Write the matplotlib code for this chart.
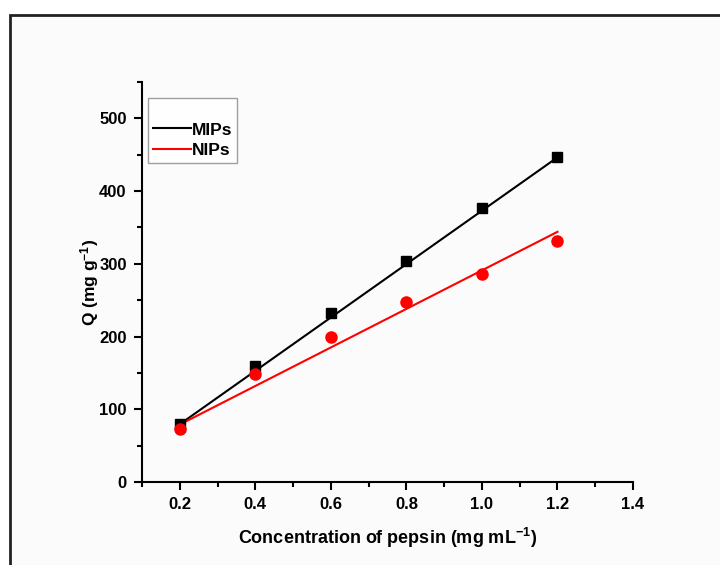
import numpy as np
import matplotlib
matplotlib.use("Agg")
import matplotlib.pyplot as plt
from matplotlib.patches import Rectangle
from matplotlib.ticker import MultipleLocator

plt.rcParams['font.family'] = ['Liberation Sans', 'DejaVu Sans']
plt.rcParams['font.weight'] = 'bold'
plt.rcParams['mathtext.default'] = 'regular'

# data
conc = [0.2, 0.4, 0.6, 0.8, 1.0, 1.2]
q_mips = [80, 159, 233, 304, 377, 447]
q_nips = [73, 148, 200, 247, 286, 331]

# linear fits (slope, intercept) as drawn in the reference
fit_mips = (367, 6)
fit_nips = (265, 26)

fig = plt.figure(figsize=(7.2, 5.65), dpi=100)
fig.patch.set_facecolor('white')

# outer frame of the original figure
fig.patches.append(Rectangle((10 / 720, -0.05), 1.2, (565 - 15) / 565 + 0.05,
                             transform=fig.transFigure, fill=True,
                             facecolor='#fbfbfb', edgecolor='#222222',
                             linewidth=2, zorder=-1))

ax = fig.add_axes([142 / 720, 83 / 565, 491 / 720, 400 / 565])
ax.set_facecolor('none')
ax.set_zorder(1)

xfit = np.array([conc[0], conc[-1]])
ax.plot(xfit, fit_mips[0] * xfit + fit_mips[1], color='black', lw=1.5, label='MIPs')
ax.plot(xfit, fit_nips[0] * xfit + fit_nips[1], color='red', lw=1.5, label='NIPs')
ax.plot(conc, q_mips, 's', color='black', ms=7, ls='none')
ax.plot(conc, q_nips, 'o', color='red', ms=8, ls='none', mec='red')

ax.set_xlim(0.1, 1.4)
ax.set_ylim(0, 550)
ax.xaxis.set_major_locator(MultipleLocator(0.2))
ax.xaxis.set_minor_locator(MultipleLocator(0.1))
ax.yaxis.set_major_locator(MultipleLocator(100))
ax.yaxis.set_minor_locator(MultipleLocator(50))
ax.set_xticks([0.2, 0.4, 0.6, 0.8, 1.0, 1.2, 1.4])
ax.set_xticklabels(['0.2', '0.4', '0.6', '0.8', '1.0', '1.2', '1.4'])

for s in ['top', 'right']:
    ax.spines[s].set_visible(False)
for s in ['left', 'bottom']:
    ax.spines[s].set_linewidth(1.5)
ax.tick_params(which='major', direction='out', length=6, width=1.5, labelsize=12, pad=5)
ax.tick_params(which='minor', direction='out', length=3.5, width=1.5)

ax.set_xlabel('Concentration of pepsin (mg mL$^{-1}$)', fontsize=13, fontweight='bold', labelpad=10)
ax.set_ylabel('Q (mg g$^{-1}$)', fontsize=12.5, fontweight='bold', labelpad=-1)

leg = ax.legend(loc='upper left', bbox_to_anchor=(6 / 491, 384 / 400), frameon=True,
                fancybox=False, edgecolor='#888888', handlelength=2.2,
                handletextpad=0.0, borderpad=0.3, labelspacing=0.3,
                borderaxespad=0, prop={'size': 12.5, 'weight': 'bold'},
                title=' ', title_fontsize=11)
leg.get_frame().set_linewidth(1.0)

fig.savefig('out.png', dpi=100)
